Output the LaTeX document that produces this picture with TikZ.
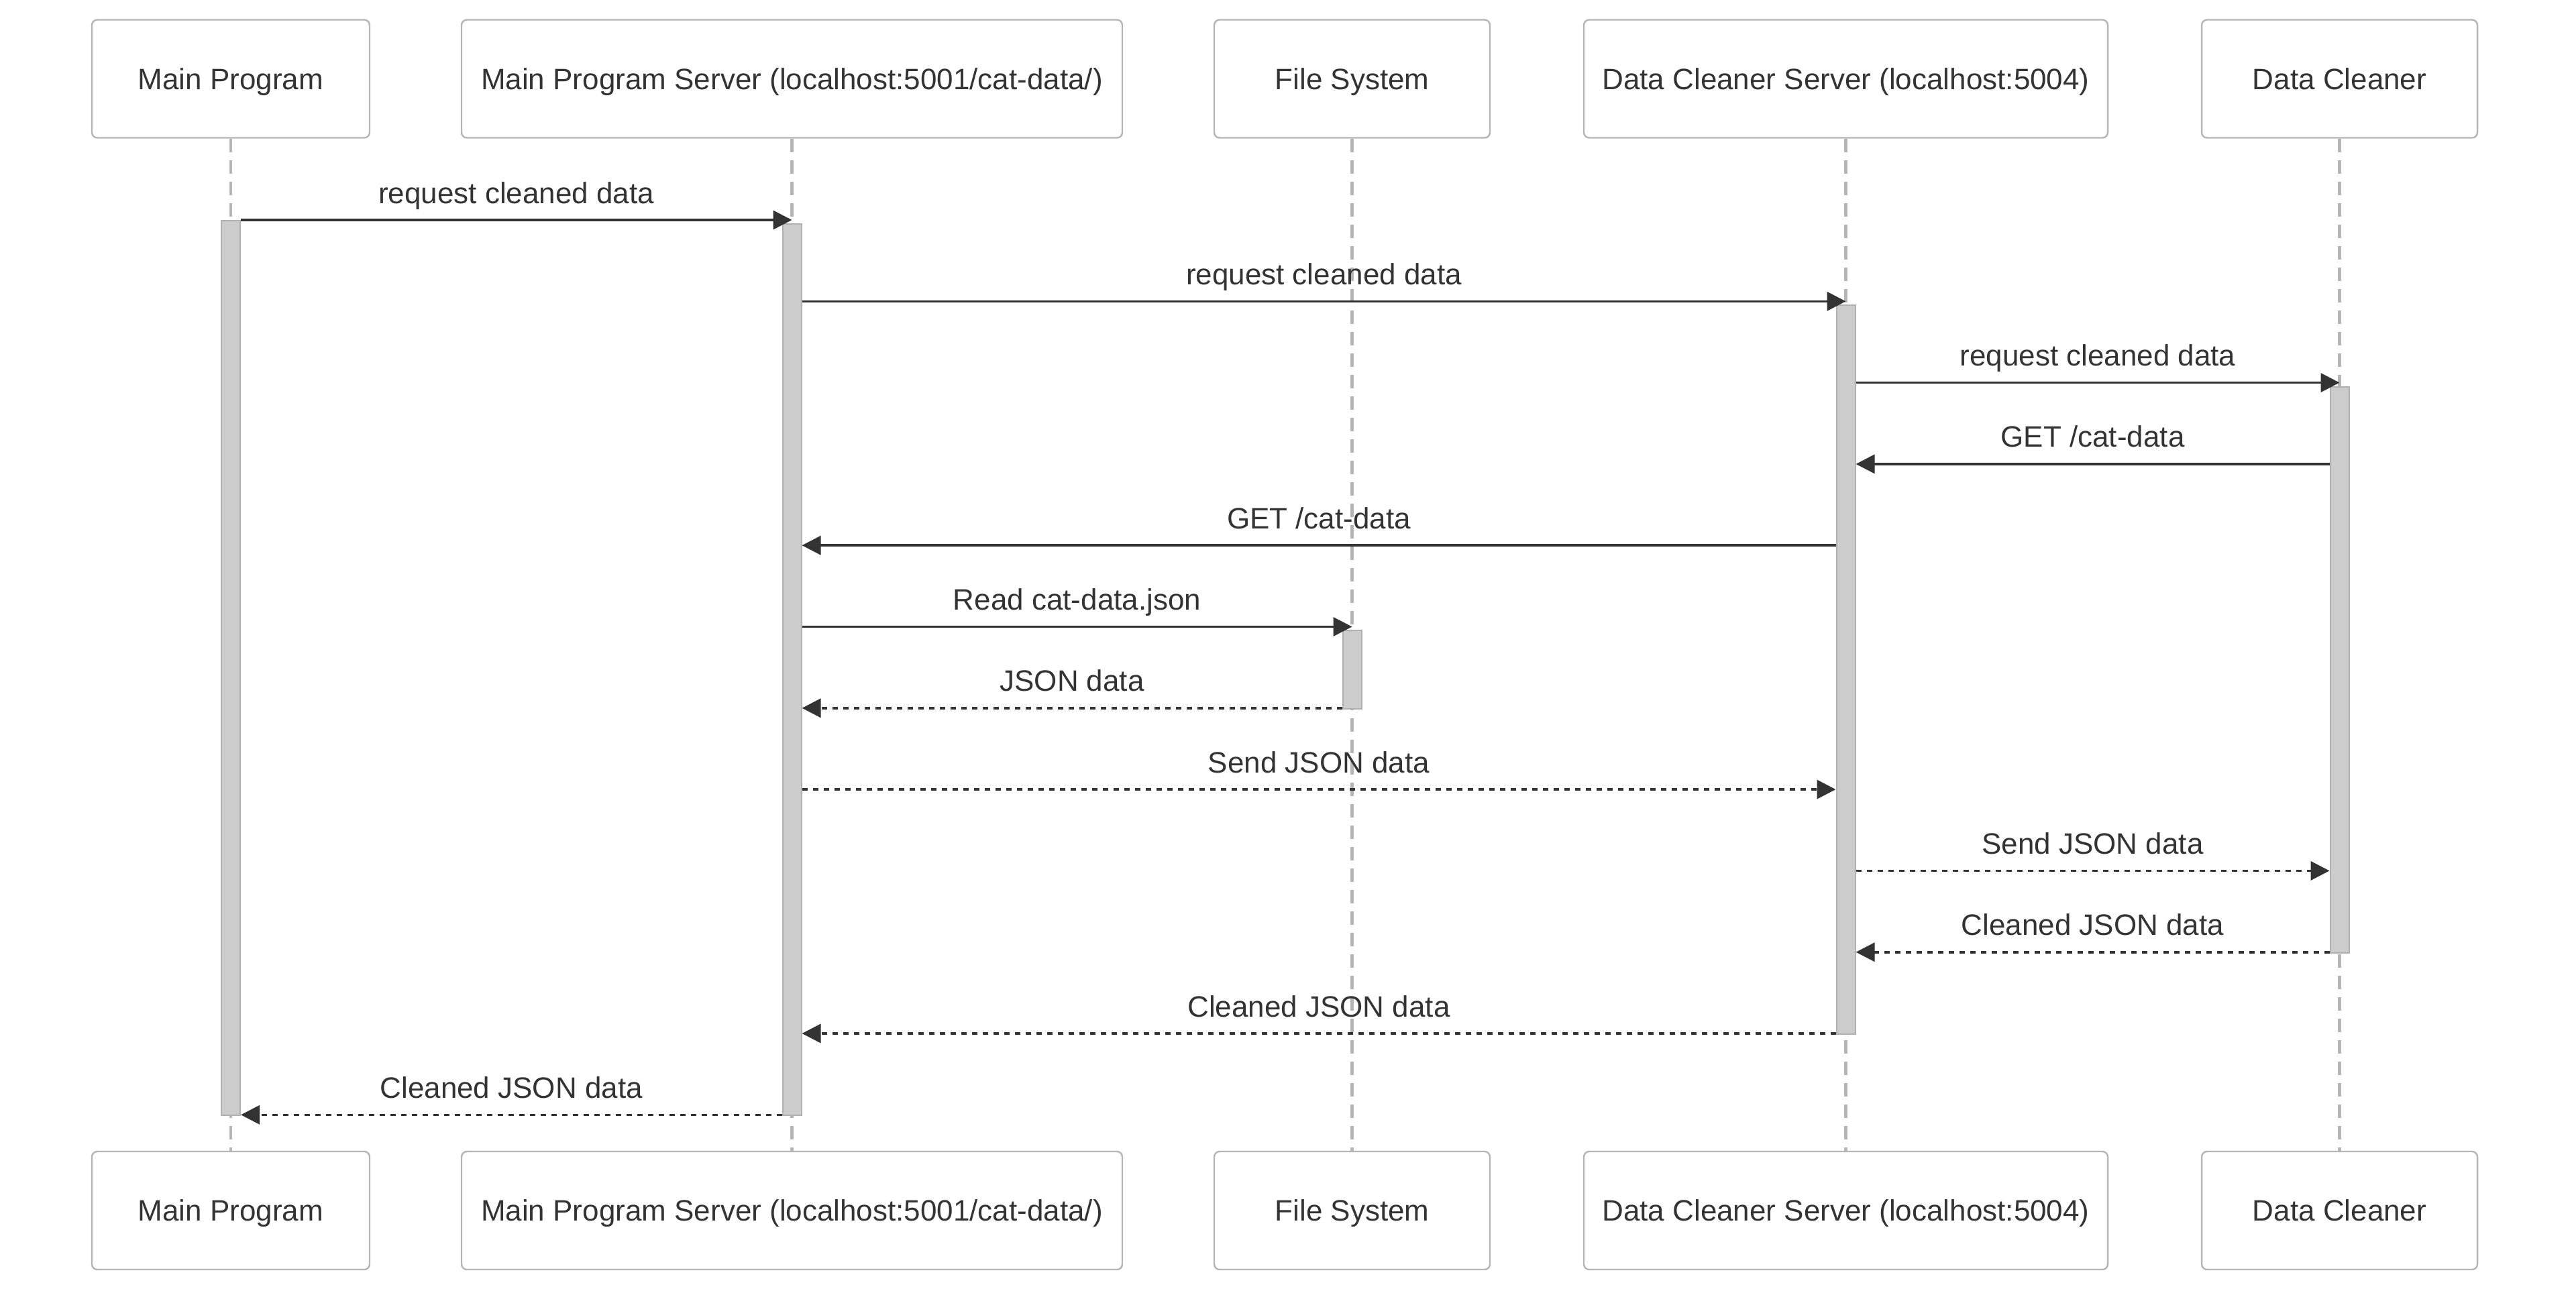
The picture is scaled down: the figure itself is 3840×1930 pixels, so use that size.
\documentclass[tikz,border=0pt]{standalone}
\usepackage{fontspec}
\setmainfont{Liberation Sans}
\usetikzlibrary{arrows.meta,calc}
\definecolor{txt}{HTML}{333333}
\definecolor{boxline}{HTML}{B5B5B5}
\definecolor{actfill}{HTML}{CCCCCC}
\definecolor{actline}{HTML}{B0B0B0}
\begin{document}
\begin{tikzpicture}[x=0.25pt,y=-0.25pt,
 actor/.style={draw=boxline, line width=0.6pt, rounded corners=2pt, fill=white, minimum height=44pt, text=txt, font=\fontsize{11}{13}\selectfont, inner sep=0pt, text height=7.9pt, text depth=0pt},
 lifeline/.style={draw=boxline, line width=1.2pt, dash pattern=on 5pt off 3pt},
 act/.style={draw=actline, line width=0.5pt, fill=actfill, anchor=north, minimum width=7pt, inner sep=0pt},
 msg/.style={draw=txt, line width=0.9pt, -{Triangle[length=7pt,width=7pt]}},
 ret/.style={msg, dash pattern=on 2pt off 2pt},
 lbl/.style={text=txt, font=\fontsize{11}{13}\selectfont, anchor=base, inner sep=0pt, yshift=6.25pt}
]
\useasboundingbox (0,0) rectangle (3840,1930);

% actors top
\node[actor, minimum width=103.5pt]  (mpT)  at (344,117.5)  {Main Program};
\node[actor, minimum width=246.25pt] (mpsT) at (1180.5,117.5) {Main Program Server (localhost:5001/cat-data/)};
\node[actor, minimum width=102.75pt] (fsT)  at (2015.5,117.5) {File System};
\node[actor, minimum width=195.25pt] (dcsT) at (2751.5,117.5) {Data Cleaner Server (localhost:5004)};
\node[actor, minimum width=102.75pt] (dcT)  at (3487.5,117.5) {Data Cleaner};
% actors bottom
\node[actor, minimum width=103.5pt]  (mpB)  at (344,1805)  {Main Program};
\node[actor, minimum width=246.25pt] (mpsB) at (1180.5,1805) {Main Program Server (localhost:5001/cat-data/)};
\node[actor, minimum width=102.75pt] (fsB)  at (2015.5,1805) {File System};
\node[actor, minimum width=195.25pt] (dcsB) at (2751.5,1805) {Data Cleaner Server (localhost:5004)};
\node[actor, minimum width=102.75pt] (dcB)  at (3487.5,1805) {Data Cleaner};

% lifelines
\draw[lifeline] (mpT.south) -- (mpB.north);
\draw[lifeline] (mpsT.south) -- (mpsB.north);
\draw[lifeline] (fsT.south) -- (fsB.north);
\draw[lifeline] (dcsT.south) -- (dcsB.north);
\draw[lifeline] (dcT.south) -- (dcB.north);

% message rows
\coordinate (r1) at (0,328);
\coordinate (r2) at (0,449.3);
\coordinate (r3) at (0,570.6);
\coordinate (r4) at (0,691.9);
\coordinate (r5) at (0,813.2);
\coordinate (r6) at (0,934.5);
\coordinate (r7) at (0,1055.8);
\coordinate (r8) at (0,1177.1);
\coordinate (r9) at (0,1298.4);
\coordinate (r10) at (0,1419.7);
\coordinate (r11) at (0,1541);
\coordinate (r12) at (0,1662.3);

% activation bars
\node[act, minimum height=333.5pt]  (aMP)  at (344,328) {};
\node[act, minimum height=332.25pt] (aMPS) at (1180.5,333) {};
\node[act, minimum height=271.75pt] (aDCS) at (2751.5,454) {};
\node[act, minimum height=211pt]    (aDC)  at (3487.5,576) {};
\node[act, minimum height=29.25pt]  (aFS)  at (2015.5,939) {};

% messages
\draw[msg] (aMP.east |- r1) -- node[lbl] {request cleaned data} (mpsT.south |- r1);
\draw[msg] (aMPS.east |- r2) -- node[lbl] {request cleaned data} (dcsT.south |- r2);
\draw[msg] (aDCS.east |- r3) -- node[lbl] {request cleaned data} (dcT.south |- r3);
\draw[msg] (aDC.west |- r4) -- node[lbl] {GET /cat-data} (aDCS.east |- r4);
\draw[msg] (aDCS.west |- r5) -- node[lbl] {GET /cat-data} (aMPS.east |- r5);
\draw[msg] (aMPS.east |- r6) -- node[lbl] {Read cat-data.json} (fsT.south |- r6);
\draw[ret] (aFS.west |- r7) -- node[lbl] {JSON data} (aMPS.east |- r7);
\draw[ret] (aMPS.east |- r8) -- node[lbl] {Send JSON data} (aDCS.west |- r8);
\draw[ret] (aDCS.east |- r9) -- node[lbl] {Send JSON data} (aDC.west |- r9);
\draw[ret] (aDC.west |- r10) -- node[lbl] {Cleaned JSON data} (aDCS.east |- r10);
\draw[ret] (aDCS.west |- r11) -- node[lbl] {Cleaned JSON data} (aMPS.east |- r11);
\draw[ret] (aMPS.west |- r12) -- node[lbl] {Cleaned JSON data} (aMP.east |- r12);
\end{tikzpicture}
\end{document}
